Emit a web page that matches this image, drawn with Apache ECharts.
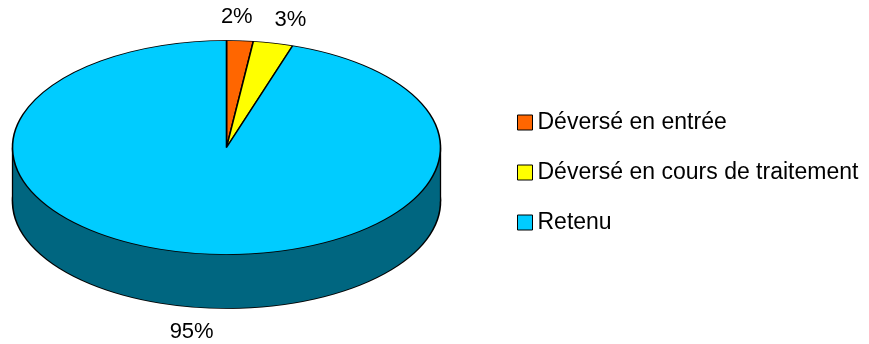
<!DOCTYPE html>
<html>
<head>
<meta charset="utf-8">
<script src="https://cdn.jsdelivr.net/npm/echarts@6/dist/echarts.min.js"></script>
<style>
  html, body { margin: 0; padding: 0; background: #fff; }
  #wrap { position: relative; width: 869px; height: 344px; overflow: hidden; }
  #pie3d { position: absolute; left: 0; top: 0; width: 869px; height: 688px;
           transform: scaleY(0.5); transform-origin: 0 0; }
  #overlay { position: absolute; left: 0; top: 0; width: 869px; height: 344px; }
</style>
</head>
<body>
<div id="wrap">
  <div id="pie3d"></div>
  <div id="overlay"></div>
</div>
<script>
// ---- data ----
const categories = ['Déversé en entrée', 'Déversé en cours de traitement', 'Retenu'];
const values = [2, 3, 95];

// ---- style ----
const topColors = ['#FF6600', '#FFFF00', '#00CCFF'];
const sideColors = ['#803300', '#808000', '#006680'];
const FONT = 'Liberation Sans, Arial, sans-serif';
const CX = 226.5;      // ellipse centre x
const CY = 147.5;      // top ellipse centre y (screen px)
const R = 214;         // horizontal radius
const K = 0.5;         // vertical squash
const D = 54;          // depth of the pie side
const LABEL_NUDGE = [[-27, 0], [-14, 0], [33, 2]];

// ---- 3D-looking pie body (drawn squashed by CSS) ----
const body = echarts.init(document.getElementById('pie3d'), null, { renderer: 'canvas' });
const mk = (cols) => categories.map((n, i) => ({ name: n, value: values[i], itemStyle: { color: cols[i] } }));
body.setOption({
  animation: false,
  series: [
    {
      type: 'pie', silent: true, z: 1,
      center: [CX, (CY + D) / K], radius: R,
      startAngle: 90, clockwise: true,
      label: { show: false }, labelLine: { show: false },
      itemStyle: { borderColor: '#000', borderWidth: 1.6 },
      data: mk(sideColors)
    },
    {
      type: 'pie', silent: true, z: 10,
      center: [CX, CY / K], radius: R,
      startAngle: 90, clockwise: true,
      label: { show: false }, labelLine: { show: false },
      itemStyle: { borderColor: '#000', borderWidth: 1.6 },
      data: mk(topColors)
    }
  ],
  graphic: [
    { type: 'rect', z: 5, silent: true,
      shape: { x: CX - R, y: CY / K, width: 2 * R, height: D / K },
      style: { fill: sideColors[2] } },
    { type: 'line', z: 6, silent: true,
      shape: { x1: CX - R, y1: CY / K, x2: CX - R, y2: (CY + D) / K },
      style: { stroke: '#000', lineWidth: 1.3 } },
    { type: 'line', z: 6, silent: true,
      shape: { x1: CX + R, y1: CY / K, x2: CX + R, y2: (CY + D) / K },
      style: { stroke: '#000', lineWidth: 1.3 } }
  ]
});

// ---- labels and legend (unsquashed overlay) ----
const over = echarts.init(document.getElementById('overlay'), null, { renderer: 'canvas' });
over.setOption({
  animation: false,
  backgroundColor: 'transparent',
  legend: {
    orient: 'vertical', left: 512, top: 106,
    icon: 'rect', itemWidth: 15, itemHeight: 15, itemGap: 27,
    selectedMode: false,
    textStyle: { fontSize: 23, fontFamily: FONT, color: '#000' },
    data: categories.map((n, i) => ({
      name: n,
      itemStyle: { color: topColors[i], borderColor: '#000', borderWidth: 1, opacity: 1 }
    }))
  },
  series: [{
    type: 'pie', silent: true,
    center: [CX, CY], radius: R,
    startAngle: 90, clockwise: true,
    avoidLabelOverlap: false,
    itemStyle: { color: 'rgba(0,0,0,0)', borderWidth: 0 },
    label: {
      show: true, position: 'outside', formatter: '{d}%',
      fontSize: 22, fontFamily: FONT, color: '#000', opacity: 1
    },
    labelLine: { show: false, length: 47, length2: 0 },
    labelLayout: function (p) {
      const r = p.labelRect;
      const mx = r.x + r.width / 2;
      const my = r.y + r.height / 2;
      const y = CY + (my - CY) * K + (my > CY ? D : 0);
      const n = LABEL_NUDGE[p.dataIndex];
      return { x: mx + n[0], y: y + n[1], align: 'center', verticalAlign: 'middle' };
    },
    data: categories.map((n, i) => ({ name: n, value: values[i] }))
  }]
});
</script>
</body>
</html>
